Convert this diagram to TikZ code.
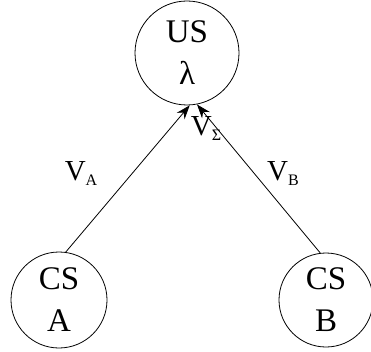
\documentclass[tikz,border=0pt]{standalone}
\usepackage{fontspec}
\setmainfont{Liberation Serif}
\usetikzlibrary{arrows.meta,positioning}
\newcommand{\lsub}[1]{\raisebox{-5pt}{\fontsize{16}{16}\selectfont #1}}
\tikzset{
  stim/.style={circle,draw,thick,minimum size=96pt,inner sep=0pt,
    align=center,font=\fontsize{33}{42}\selectfont},
  link/.style={-{Stealth[length=14pt,width=10pt]},thick},
  vlab/.style={font=\fontsize{29}{30}\selectfont},
}
\begin{document}
\begin{tikzpicture}[x=1pt,y=1pt]
  \useasboundingbox (0,0) rectangle (371,351);
  % stimuli
  \node[stim,minimum size=104pt] (us) at (187,298) {US\\λ};
  \node[stim] (csa) at (59,51) {CS\\A};
  \node[stim,minimum size=94pt] (csb) at (326,51) {CS\\B};
  % associations
  \draw[link] (csa.82) -- (us.273);
  \draw[link] (csb.97) -- (us.281);
  % strengths
  \node[vlab] (va) at (81,177) {V\lsub{A}};
  \node[vlab] (vb) at (283,177) {V\lsub{B}};
  \node[vlab] (vs) at (206,222) {V\lsub{Σ}};
\end{tikzpicture}
\end{document}
